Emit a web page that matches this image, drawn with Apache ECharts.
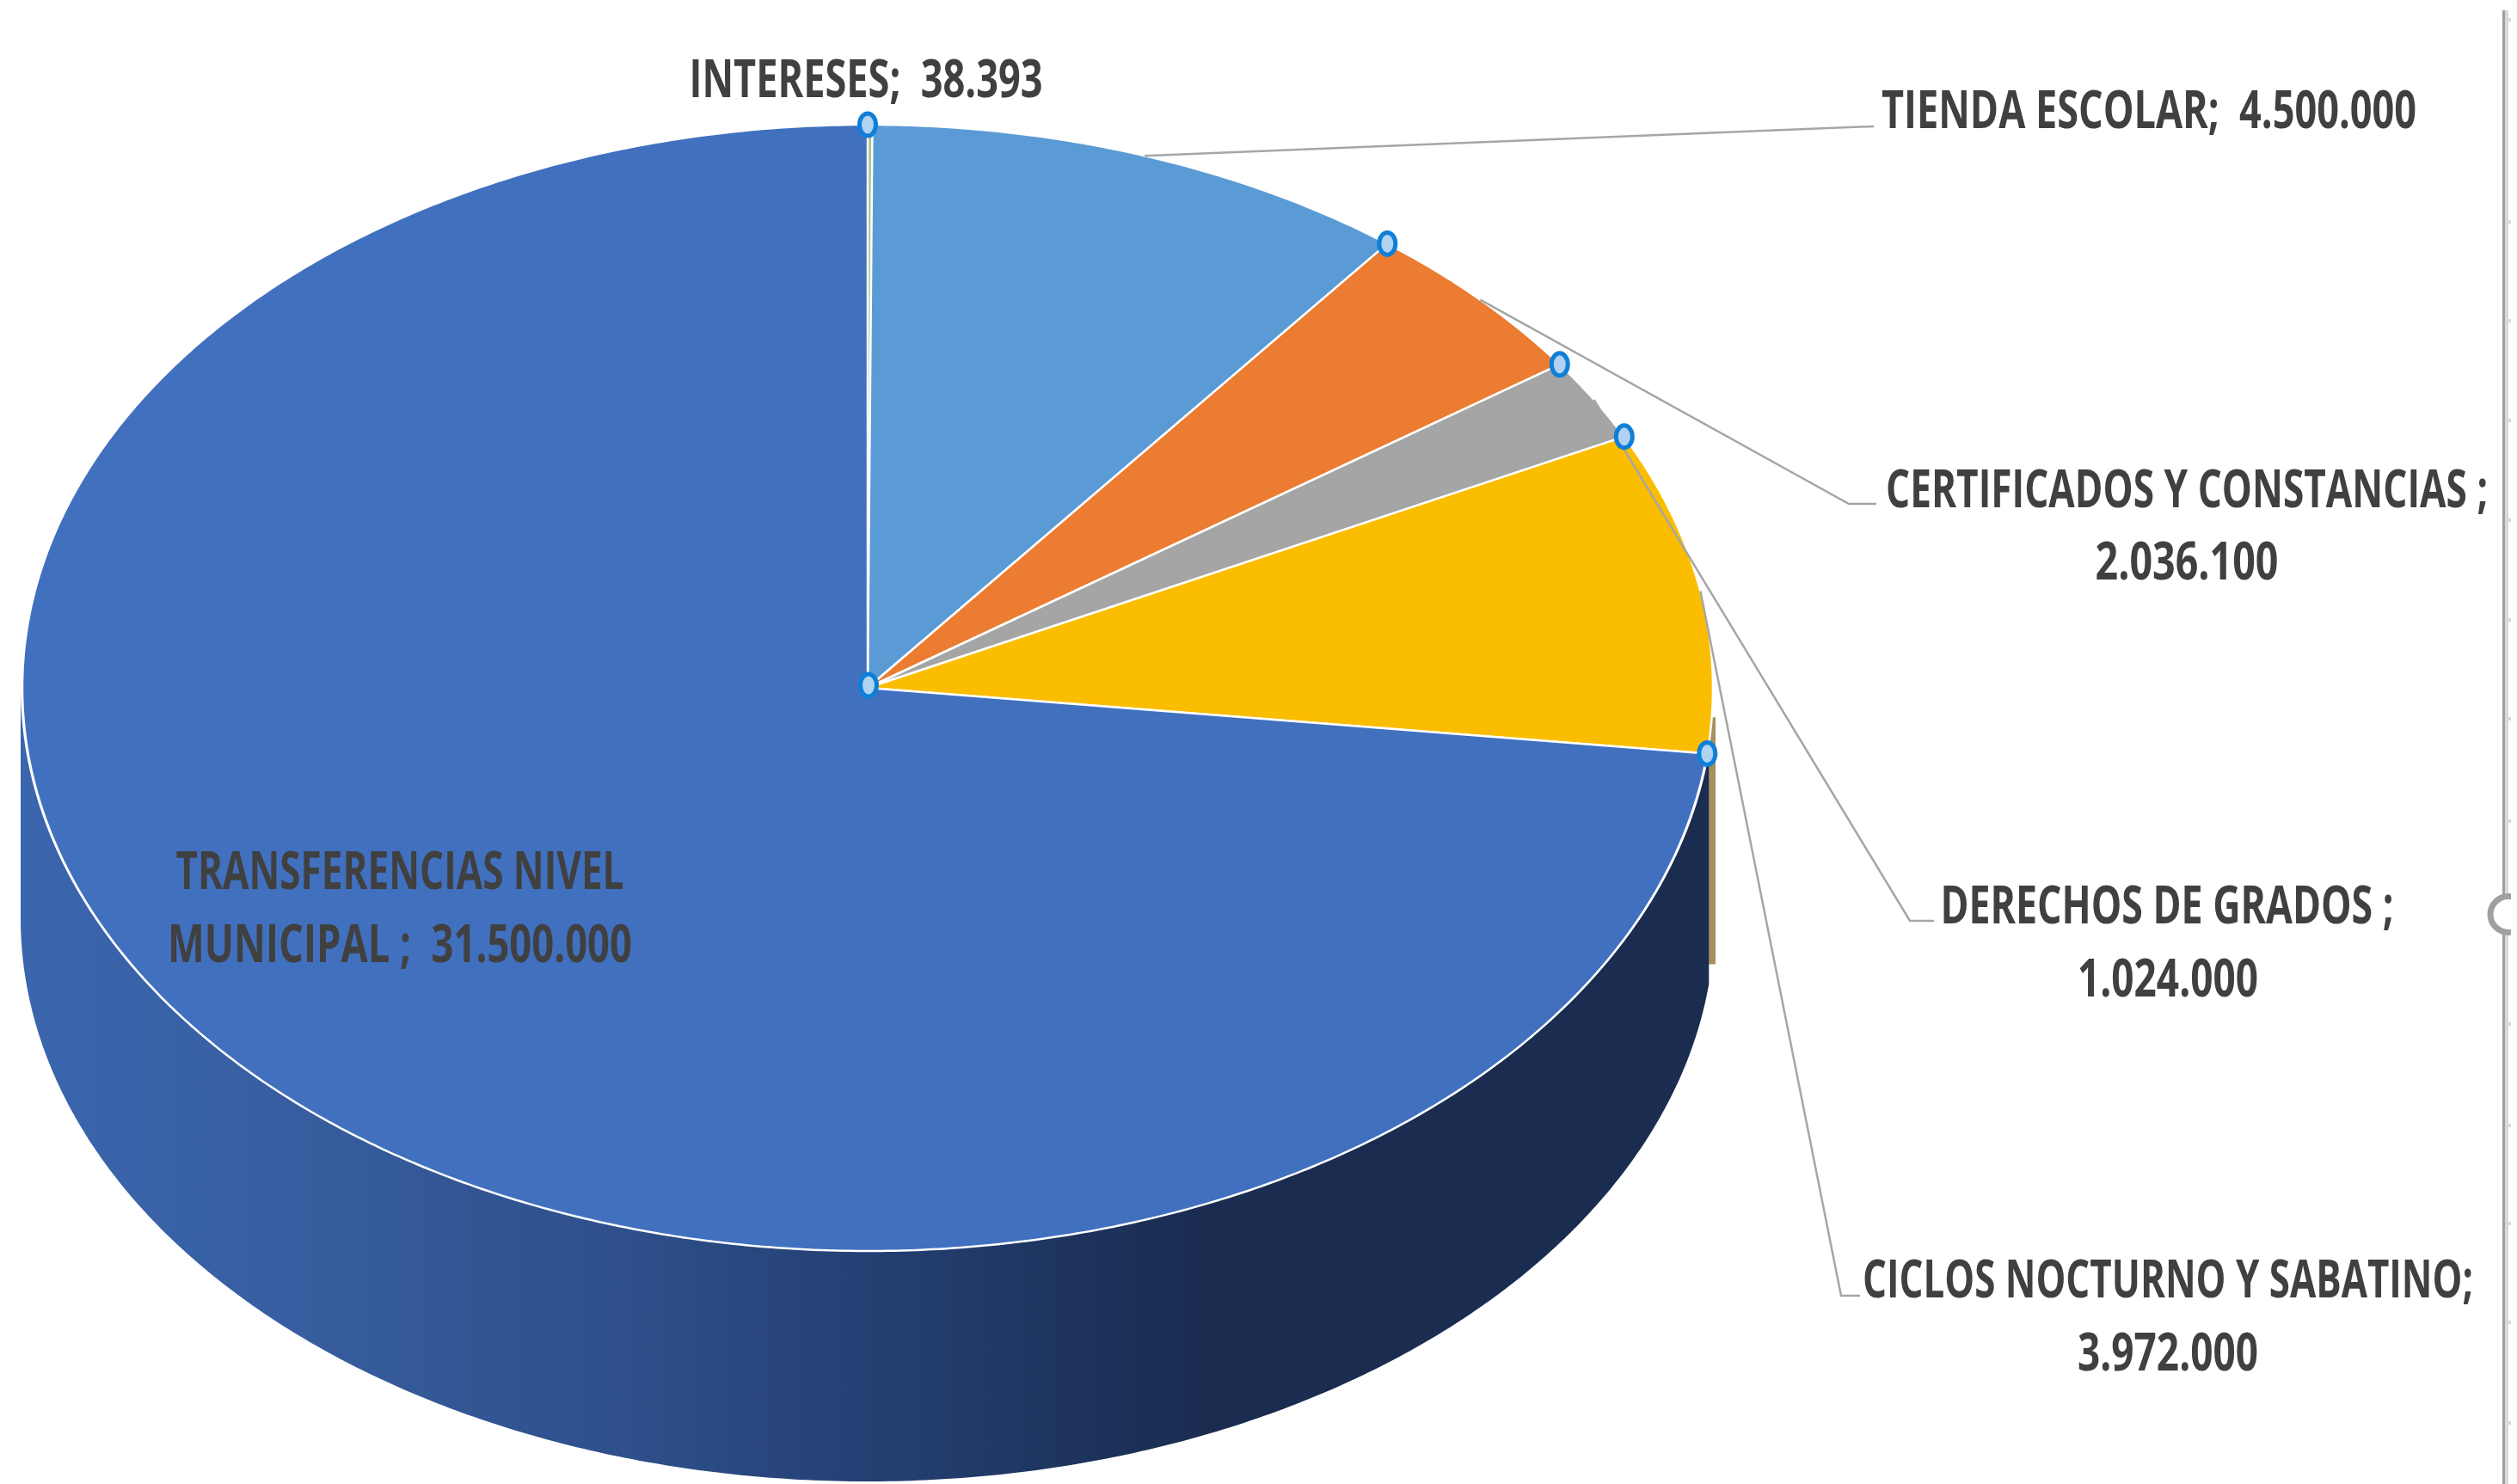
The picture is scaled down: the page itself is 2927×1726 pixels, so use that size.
<!DOCTYPE html>
<html>
<head>
<meta charset="utf-8">
<style>html,body{margin:0;padding:0;background:#fff}#c{width:2927px;height:1726px}</style>
<script src="https://cdn.jsdelivr.net/npm/echarts@6/dist/echarts.min.js"></script>
</head>
<body>
<div id="c"></div>
<script>
// ---- data ----
const categories = ['INTERESES','TIENDA ESCOLAR','CERTIFICADOS Y CONSTANCIAS','DERECHOS DE GRADOS','CICLOS NOCTURNO Y SABATINO','TRANSFERENCIAS NIVEL MUNICIPAL'];
const values = [38393, 4500000, 2036100, 1024000, 3972000, 31500000];
const labelLines = [
  ['INTERESES;  38.393'],
  ['TIENDA ESCOLAR;  4.500.000'],
  ['CERTIFICADOS Y CONSTANCIAS ;','2.036.100'],
  ['DERECHOS DE GRADOS ;','1.024.000'],
  ['CICLOS NOCTURNO Y SABATINO;','3.972.000'],
  ['TRANSFERENCIAS NIVEL','MUNICIPAL ;  31.500.000']
];
// ---- styles and layout ----
const colors = ['#A9C48A','#5B9BD5','#EB7C31','#A5A5A5','#FBBD00','#4170BF'];
const pie = {cx:1009, cy:800, rx:983, ry:655, depth:268, wallRx:985};
const wallGradient = [[0,'#3B66AE'],[0.17,'#375D9F'],[0.36,'#2E4F8A'],[0.52,'#233E70'],[0.70,'#1A2C50'],[1,'#1A2C50']];
const labelBoxes = [
  [[1007,96,411]],
  [[2499,132,622]],
  [[2543,573,700],[2543,657,213]],
  [[2520,1057,527],[2521,1142,210]],
  [[2521,1492,710],[2521,1577,210]],
  [[465,1017,521],[465,1102,540]]
];
// leader: [knee x, knee y, end x, end y] per category (null = no leader)
const leaders = [null,[2150,148,2179,147],[2150,586,2182,586],[2221,1071,2249,1071],[2141,1507,2163,1507],null];
const FONT = "bold 60px 'Open Sans'";

const total = values.reduce((a,b)=>a+b,0);
const starts = []; let acc = 0;
values.forEach(v=>{starts.push(acc/total*360); acc+=v;});
const ends = values.map((v,i)=>starts[i]+v/total*360);
const pt = (deg,dy=0,rx=pie.rx)=>{const r=deg*Math.PI/180;return [pie.cx+rx*Math.sin(r), pie.cy-pie.ry*Math.cos(r)+dy];};
const arc = (a,b,dy=0,rx=pie.rx)=>{const n=Math.max(2,Math.ceil(Math.abs(b-a)*2));const o=[];for(let i=0;i<=n;i++)o.push(pt(a+(b-a)*i/n,dy,rx));return o;};
const mctx = document.createElement('canvas').getContext('2d');
mctx.font = FONT;

const wallSeries = {type:'custom',coordinateSystem:'none',z:1,silent:true,clip:false,data:values.map(v=>[v]),
  renderItem(p){
    const i=p.dataIndex, a=starts[i], b=ends[i];
    if(i===5){
      const from=Math.max(a,90), to=Math.min(b,270);
      return {type:'polygon',shape:{points:arc(from,to,0,pie.wallRx).concat(arc(to,from,pie.depth,pie.wallRx))},
        style:{fill:{type:'linear',x:0,y:0,x2:1,y2:0,colorStops:wallGradient.map(s=>({offset:s[0],color:s[1]}))}}};
    }
    if(i===4){
      const right=pie.cx+pie.wallRx+1, left=pt(b,0,pie.wallRx)[0]-2, top=pt(93)[1], bottom=pt(b)[1]+245;
      return {type:'polygon',shape:{points:[[left,top],[right,top],[right,bottom],[left,bottom]]},style:{fill:'#A5915F'}};
    }
    return {type:'group',children:[]};
  }};
const faceSeries = {type:'custom',coordinateSystem:'none',z:2,silent:true,clip:false,data:values.map(v=>[v]),
  renderItem(p){
    const i=p.dataIndex;
    return {type:'polygon',shape:{points:[[pie.cx,pie.cy]].concat(arc(starts[i],ends[i]))},
      style:{fill:colors[i],stroke:'#FFFFFF',lineWidth:i===0?1:2.5,lineJoin:'round'}};
  }};
const leaderSeries = {type:'custom',coordinateSystem:'none',z:3,silent:true,clip:false,data:values.map(v=>[v]),
  renderItem(p){
    const i=p.dataIndex, l=leaders[i];
    if(!l) return {type:'group',children:[]};
    const s=pt((starts[i]+ends[i])/2);
    return {type:'polyline',shape:{points:[s,[l[0],l[1]],[l[2],l[3]]]},style:{fill:null,stroke:'#A6A6A6',lineWidth:2.5}};
  }};
const handleSeries = {type:'custom',coordinateSystem:'none',z:4,silent:true,clip:false,data:values.map(v=>[v]).concat([[total]]),
  renderItem(p){
    const i=p.dataIndex;
    if(i===0) return {type:'group',children:[]};
    const c=i===6?[pie.cx+1,pie.cy-3]:pt(ends[i]);
    return {type:'ellipse',shape:{cx:c[0],cy:c[1],rx:9.5,ry:13},style:{fill:'#AFD3F1',stroke:'#0F7FD8',lineWidth:5}};
  }};
const labelSeries = {type:'custom',coordinateSystem:'none',z:5,silent:true,clip:false,data:values.map(v=>[v]),
  renderItem(p){
    const i=p.dataIndex;
    return {type:'group',children:labelLines[i].map((t,k)=>{
      const b=labelBoxes[i][k];
      return {type:'text',x:b[0],y:b[1],scaleX:b[2]/mctx.measureText(t).width,
        style:{text:t,x:0,y:0,align:'center',verticalAlign:'middle',font:FONT,fill:'#404040'}};
    })};
  }};

const frameTicks = [23,258,373,489,605,721,836,955,1191,1309,1423,1538,1655];
const chart = echarts.init(document.getElementById('c'),null,{renderer:'canvas'});
chart.setOption({
  animation:false,
  backgroundColor:'#FFFFFF',
  graphic:{elements:[
    {type:'line',silent:true,z:6,shape:{x1:2911.5,y1:12,x2:2911.5,y2:1726},style:{stroke:'#A0A0A0',lineWidth:3}},
    {type:'line',silent:true,z:6,shape:{x1:2915,y1:12,x2:2915,y2:1726},style:{stroke:'#D9D9D9',lineWidth:4}},
    ...frameTicks.map(y=>({type:'rect',silent:true,z:6,shape:{x:2917,y:y-2,width:3,height:4},style:{fill:'#D9D9D9'}})),
    {type:'circle',silent:true,z:7,shape:{cx:2917,cy:1063.5,r:21},style:{fill:'#FFFFFF',stroke:'#A0A0A0',lineWidth:7}},
    {type:'rect',silent:true,z:8,shape:{x:2920,y:1030,width:7,height:70},style:{fill:'#FFFFFF'}}
  ]},
  series:[wallSeries,faceSeries,leaderSeries,handleSeries,labelSeries]
});
</script>
</body>
</html>
